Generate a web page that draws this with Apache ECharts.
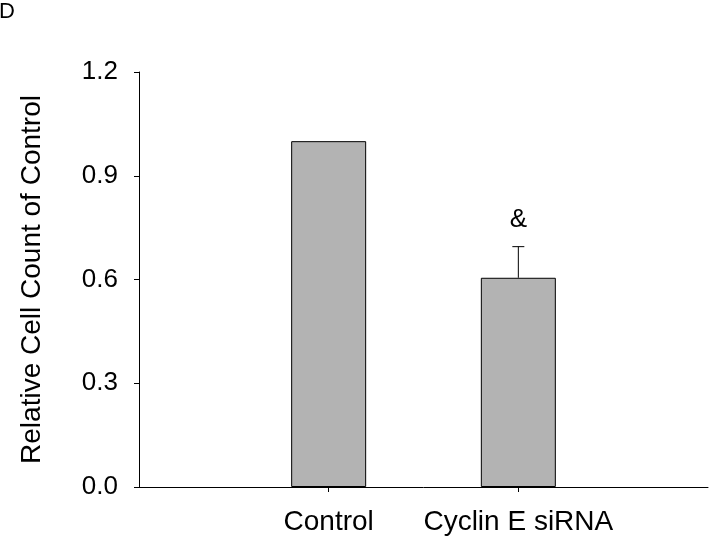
<!DOCTYPE html>
<html>
<head>
<meta charset="utf-8">
<script src="https://cdn.jsdelivr.net/npm/echarts@6/dist/echarts.min.js"></script>
<style>
html,body{margin:0;padding:0;background:#fff;}
#chart{width:709px;height:537px;}
</style>
</head>
<body>
<div id="chart"></div>
<script>
var categories = ['Control', 'Cyclin E siRNA'];
var positions = [1, 2];
var values = [1.0, 0.605];
var errors = [0, 0.09];
var marks = ['', '&'];
var yTicks = [0, 0.3, 0.6, 0.9, 1.2];

var FONT = 'Liberation Sans';
var chart = echarts.init(document.getElementById('chart'));

var barData = positions.map(function (p, i) { return [p, values[i]]; });
var errData = positions.map(function (p, i) { return [p, values[i], errors[i], i]; });
var markData = [];
positions.forEach(function (p, i) {
  if (marks[i]) markData.push({ value: [p, values[i] + errors[i]], mark: marks[i] });
});

chart.setOption({
  animation: false,
  backgroundColor: '#ffffff',
  graphic: [{
    type: 'text', left: -1, top: 1,
    style: { text: 'D', fontSize: 22, fontFamily: FONT, fill: '#000' }
  }],
  grid: { left: 139, right: 1, top: 72, bottom: 50, containLabel: false },
  xAxis: {
    type: 'value', min: 0, max: 3,
    splitLine: { show: false },
    axisLine: { show: true, onZero: false, lineStyle: { color: '#000', width: 1 } },
    axisTick: { show: true, customValues: positions, length: 5, lineStyle: { color: '#000' } },
    axisLabel: {
      show: true, customValues: positions, margin: 21,
      fontFamily: FONT, fontSize: 28, color: '#000',
      formatter: function (v) {
        var i = positions.indexOf(Math.round(v));
        return i >= 0 ? categories[i] : '';
      }
    }
  },
  yAxis: {
    type: 'value', min: 0, max: 1.2, interval: 0.3,
    name: 'Relative Cell Count of Control',
    nameLocation: 'middle', nameGap: 93,
    nameTextStyle: { fontFamily: FONT, fontSize: 28, color: '#000' },
    splitLine: { show: false },
    axisLine: { show: true, lineStyle: { color: '#000', width: 1 } },
    axisTick: { show: true, length: 5, lineStyle: { color: '#000' } },
    axisLabel: {
      margin: 21, fontFamily: FONT, fontSize: 26, color: '#000',
      formatter: function (v) { return v.toFixed(1); }
    }
  },
  series: [{
    type: 'bar',
    data: barData,
    barWidth: 75,
    itemStyle: { color: '#b3b3b3', borderColor: '#000', borderWidth: 1 },
    z: 2
  }, {
    type: 'custom',
    data: errData,
    z: 3,
    renderItem: function (params, api) {
      var x = api.value(0), v = api.value(1), e = api.value(2);
      var base = api.coord([x, v]);
      var top = api.coord([x, v + e]);
      var children = [];
      if (e > 0) {
        children.push({ type: 'line', shape: { x1: base[0], y1: base[1], x2: top[0], y2: top[1] }, style: { stroke: '#000', lineWidth: 1 } });
        children.push({ type: 'line', shape: { x1: top[0] - 6, y1: top[1], x2: top[0] + 6, y2: top[1] }, style: { stroke: '#000', lineWidth: 1 } });
      }
      return { type: 'group', children: children };
    }
  }, {
    type: 'scatter',
    data: markData,
    symbolSize: 1,
    itemStyle: { color: 'rgba(0,0,0,0)' },
    silent: true,
    z: 4,
    label: {
      show: true, position: 'top', distance: 13, opacity: 1,
      fontFamily: FONT, fontSize: 26, color: '#000',
      formatter: function (p) { return p.data.mark; }
    }
  }]
});
</script>
</body>
</html>
